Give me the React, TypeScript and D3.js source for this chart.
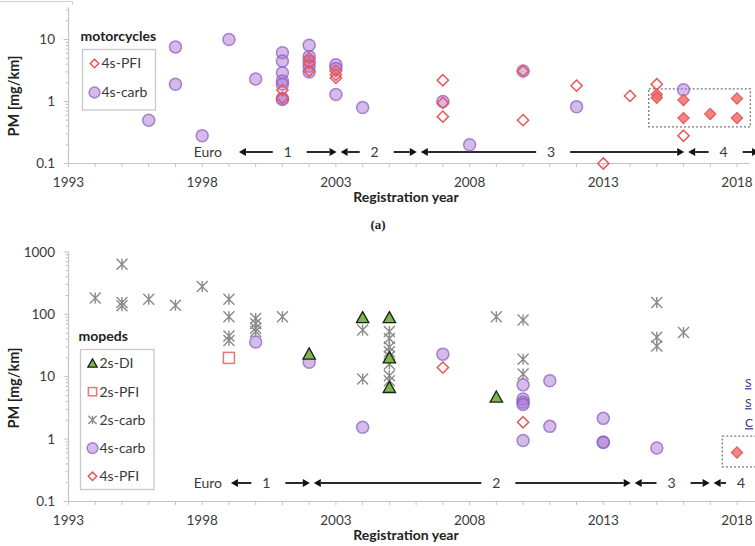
import React from 'react'
import * as d3 from 'd3'

// panel (a) motorcycles: [registration year, PM mg/km]
const motoCarb4s: [number, number][] = [
  [1996, 0.5], [1997, 7.6], [1997, 1.9], [1998, 0.28], [1999, 10], [2000, 2.3],
  [2001, 6.1], [2001, 4.5], [2001, 2.9], [2001, 2.15], [2001, 1.9], [2001, 1.12], [2001, 1.08],
  [2002, 8.1], [2002, 5.3], [2002, 4.4], [2002, 3.7], [2002, 3.0],
  [2003, 3.9], [2003, 3.4], [2003, 1.3], [2004, 0.8],
  [2007, 1.0], [2008, 0.2], [2010, 3.1], [2012, 0.82], [2016, 1.55]
]
const motoPfi4s: [number, number][] = [
  [2001, 1.53], [2001, 1.15], [2002, 5.0], [2002, 4.2], [2002, 3.1],
  [2003, 3.1], [2003, 2.7], [2003, 2.4],
  [2007, 2.2], [2007, 0.95], [2007, 0.57], [2010, 3.1], [2010, 0.5],
  [2012, 1.8], [2013, 0.1], [2014, 1.23], [2015, 1.9], [2016, 0.28]
]
// measured in this study (filled, inside dashed box)
const motoPfiNew: [number, number][] = [
  [2015, 1.3], [2015, 1.15], [2016, 1.06], [2016, 0.54], [2017, 0.63], [2018, 1.12], [2018, 0.54]
]
const motoBoxYears = [2014.7, 2018.5]
const motoBoxPm = [0.39, 1.6]
// [start, end, label year, label]
const motoEuro: [number, number, number, string][] = [
  [1999.3, 2003.1, 2001.2, '1'],
  [2003.1, 2006.1, 2004.45, '2'],
  [2006.1, 2016.1, 2011.05, '3'],
  [2016.1, 2018.9, 2017.5, '4']
]

// panel (b) mopeds
const mopedDi2s: [number, number][] = [
  [2002, 23], [2004, 88], [2005, 88], [2005, 20], [2005, 6.7], [2009, 4.7]
]
const mopedPfi2s: [number, number][] = [[1999, 20]]
const mopedCarb2s: [number, number][] = [
  [1994, 182], [1995, 635], [1995, 155], [1995, 137], [1996, 175], [1997, 140], [1998, 279],
  [1999, 175], [1999, 91], [1999, 45], [1999, 38],
  [2000, 86], [2000, 71], [2000, 60], [2000, 53], [2001, 91],
  [2004, 56], [2004, 9.2],
  [2005, 53], [2005, 41], [2005, 30], [2005, 25], [2005, 21], [2005, 16], [2005, 10.4], [2005, 8.6],
  [2009, 91], [2010, 81], [2010, 19], [2010, 11],
  [2015, 155], [2015, 43], [2015, 31], [2016, 51]
]
const mopedCarb4s: [number, number][] = [
  [2000, 36], [2002, 17], [2004, 1.55], [2007, 23],
  [2010, 7.4], [2010, 4.4], [2010, 3.9], [2010, 3.6], [2010, 0.95],
  [2011, 8.6], [2011, 1.6], [2013, 2.15], [2013, 0.9], [2013, 0.88], [2015, 0.72]
]
const mopedPfi4s: [number, number][] = [[2007, 14], [2010, 1.86]]
const mopedPfiNew: [number, number][] = [[2018, 0.61]]
const mopedBoxYears = [2017.45, 2019.6]
const mopedBoxPm = [0.36, 1.12]
const mopedEuro: [number, number, number, string][] = [
  [1999.0, 2002.1, 2000.4, '1'],
  [2002.1, 2014.1, 2009.0, '2'],
  [2014.1, 2017.05, 2015.55, '3'],
  [2017.05, 2019.6, 2018.15, '4']
]

const xLabelYears = [1993, 1998, 2003, 2008, 2013, 2018]
const motoYTicks = [0.1, 1, 10]
const mopedYTicks = [0.1, 1, 10, 100, 1000]

const FONT = 'Lato, "Open Sans", sans-serif'
const AXIS = '#c4c4c4'
const TXT = '#3a3a3a'

const x = d3.scaleLinear().domain([1993, 2018]).range([68.5, 737])

function Marker ({ kind, cx, cy, s = 1 }: { kind: string, cx: number, cy: number, s?: number }) {
  if (kind === 'carb4') {
    return <circle cx={cx} cy={cy} r={6 * s} fill='rgba(165,115,210,0.48)' stroke='rgba(140,90,195,0.72)' strokeWidth={1.5} />
  }
  if (kind === 'pfi4' || kind === 'pfiNew') {
    const r = 5.6 * s
    const d = `M${cx},${cy - r}L${cx + r},${cy}L${cx},${cy + r}L${cx - r},${cy}Z`
    return kind === 'pfi4'
      ? <path d={d} fill='none' stroke='#ec5656' strokeWidth={1.5} />
      : <path d={d} fill='rgba(240,110,110,0.85)' stroke='#e25a5a' strokeWidth={1.2} />
  }
  if (kind === 'di2') {
    const r = 6.2 * s
    return <path d={`M${cx},${cy - r}L${cx + r},${cy + r * 0.8}L${cx - r},${cy + r * 0.8}Z`} fill='#7cb848' stroke='#1e1e1e' strokeWidth={1.3} />
  }
  if (kind === 'pfi2') {
    const r = 5.5 * s
    return <rect x={cx - r} y={cy - r} width={2 * r} height={2 * r} fill='none' stroke='#ee7474' strokeWidth={1.5} />
  }
  // carb2: asterisk
  const r = 5.5 * s
  return (
    <path d={`M${cx - r},${cy - r}L${cx + r},${cy + r}M${cx - r},${cy + r}L${cx + r},${cy - r}M${cx},${cy - r}L${cx},${cy + r}`}
      stroke='#8a8a8a' strokeWidth={1.4} fill='none' />
  )
}

function Arrow ({ from, to, y }: { from: number, to: number, y: number }) {
  // arrow line from `from`, head at `to`
  const dir = to > from ? 1 : -1
  const hl = 7
  return (
    <g>
      <line x1={from} x2={to - dir * hl} y1={y} y2={y} stroke='#2a2a2a' strokeWidth={2} />
      <path d={`M${to},${y}L${to - dir * hl},${y - 4}L${to - dir * hl},${y + 4}Z`} fill='#111' />
    </g>
  )
}

type PanelProps = {
  y: d3.ScaleLogarithmic<number, number>
  yTop: number
  yTicks: number[]
  axisEnd: number
  series: { kind: string, data: [number, number][] }[]
  legendTitle: string
  legend: { kind: string, label: string }[]
  legendX: number
  legendY: number
  legendW: number
  legendH: number
  legendStep: number
  euro: [number, number, number, string][]
  euroY: number
  boxYears: number[]
  boxPm: number[]
  titleY: number
}

function Panel (p: PanelProps) {
  const y = p.y
  const y0 = y.domain()[0]
  const base = y(y0)
  const minor: number[] = []
  for (let dec = y0; dec < p.yTop; dec *= 10) {
    for (let m = 2; m <= 9; m++) {
      const v = Math.round(dec * m * 1000) / 1000
      if (v <= p.yTop) minor.push(v)
    }
  }
  const years = d3.range(1993, 2020).filter(yr => x(yr) <= p.axisEnd)
  const fmt = (v: number) => (v < 1 ? String(v) : d3.format('d')(v))
  return (
    <g>
      {/* y axis */}
      <line x1={x(1993)} x2={x(1993)} y1={base} y2={y(p.yTop)} stroke={AXIS} strokeWidth={1.2} />
      {minor.map((v, i) => (
        <line key={'m' + i} x1={x(1993) - 3} x2={x(1993)} y1={y(v)} y2={y(v)} stroke={AXIS} />
      ))}
      {p.yTicks.map(v => (
        <g key={'t' + v}>
          <line x1={x(1993) - 5} x2={x(1993)} y1={y(v)} y2={y(v)} stroke={AXIS} />
          <text x={55} y={y(v)} dy='0.35em' textAnchor='end' fontSize={13.5} fill={TXT}>{fmt(v)}</text>
        </g>
      ))}
      <text transform={`translate(19,${p.titleY}) rotate(-90)`} textAnchor='middle' fontSize={14.5} fontWeight='bold' fill='#222'>PM [mg/km]</text>

      {/* x axis */}
      <line x1={x(1993)} x2={p.axisEnd} y1={base} y2={base} stroke={AXIS} strokeWidth={1.2} />
      {years.map(yr => (
        <line key={'x' + yr} x1={x(yr)} x2={x(yr)} y1={base} y2={base + 3.5} stroke={AXIS} />
      ))}
      {xLabelYears.map(yr => (
        <text key={'xl' + yr} x={x(yr)} y={base + 19} dy='0.35em' textAnchor='middle' fontSize={13.5} fill={TXT}>{yr}</text>
      ))}
      <text x={406} y={base + 34} dy='0.35em' textAnchor='middle' fontSize={14} fontWeight='bold' fill='#222'>Registration year</text>

      {/* euro stages */}
      <text x={222} y={p.euroY} dy='0.35em' textAnchor='end' fontSize={14} fill={TXT}>Euro</text>
      {p.euro.map(([s, e, ly, lab]) => {
        const lx = x(ly)
        return (
          <g key={'e' + lab}>
            <Arrow from={lx - 15} to={x(s) + 2} y={p.euroY} />
            <Arrow from={lx + 19} to={x(e) - 2} y={p.euroY} />
            <text x={lx} y={p.euroY} dy='0.35em' textAnchor='middle' fontSize={14} fill={TXT}>{lab}</text>
          </g>
        )
      })}

      {/* dashed box around this study */}
      <rect x={x(p.boxYears[0])} y={y(p.boxPm[1])} width={x(p.boxYears[1]) - x(p.boxYears[0])}
        height={y(p.boxPm[0]) - y(p.boxPm[1])} fill='none' stroke='#777' strokeWidth={1.3} strokeDasharray='2,2' />

      {/* points */}
      {p.series.map(ser => ser.data.map(([yr, v], i) => (
        <Marker key={ser.kind + i} kind={ser.kind} cx={x(yr)} cy={y(v)} />
      )))}

      {/* legend */}
      <text x={p.legendX - 2} y={p.legendY - 13} dy='0.35em' fontSize={14} fontWeight='bold' fill='#222'>{p.legendTitle}</text>
      <rect x={p.legendX} y={p.legendY} width={p.legendW} height={p.legendH} fill='#fff' stroke='#c8c8c8' strokeWidth={1.3} />
      {p.legend.map((it, i) => {
        const ly = p.legendY + 14 + i * p.legendStep
        return (
          <g key={'l' + i}>
            <Marker kind={it.kind} cx={p.legendX + 12} cy={ly} s={it.kind === 'carb4' ? 0.9 : 0.75} />
            <text x={p.legendX + 19} y={ly} dy='0.35em' fontSize={14} fill={TXT}>{it.label}</text>
          </g>
        )
      })}
    </g>
  )
}

export default function App () {
  const yMoto = d3.scaleLog().domain([0.1, 10]).range([163.5, 39.5])
  const yMoped = d3.scaleLog().domain([0.1, 1000]).range([501.5, 251.9])
  return (
    <svg width={755} height={546} style={{ position: 'absolute', left: 0, top: 0, display: 'block' }}
      fontFamily={FONT}>
      <rect width={755} height={546} fill='#fff' />
      <path d='M0,1.5H72.5V5' fill='none' stroke='#cfcfcf' />
      <Panel
        y={yMoto} yTop={33} yTicks={motoYTicks} axisEnd={750}
        series={[
          { kind: 'carb4', data: motoCarb4s },
          { kind: 'pfi4', data: motoPfi4s },
          { kind: 'pfiNew', data: motoPfiNew }
        ]}
        legendTitle='motorcycles'
        legend={[{ kind: 'pfi4', label: '4s-PFI' }, { kind: 'carb4', label: '4s-carb' }]}
        legendX={82.5} legendY={49.5} legendW={73} legendH={60.5} legendStep={29}
        euro={motoEuro} euroY={152}
        boxYears={motoBoxYears} boxPm={motoBoxPm}
        titleY={96}
      />
      <text x={378} y={224} dy='0.35em' textAnchor='middle' fontSize={13} fontWeight='bold' fontFamily='"Liberation Serif", serif' fill='#222'>(a)</text>
      <Panel
        y={yMoped} yTop={1000} yTicks={mopedYTicks} axisEnd={755}
        series={[
          { kind: 'carb2', data: mopedCarb2s },
          { kind: 'carb4', data: mopedCarb4s },
          { kind: 'pfi2', data: mopedPfi2s },
          { kind: 'di2', data: mopedDi2s },
          { kind: 'pfi4', data: mopedPfi4s },
          { kind: 'pfiNew', data: mopedPfiNew }
        ]}
        legendTitle='mopeds'
        legend={[
          { kind: 'di2', label: '2s-DI' },
          { kind: 'pfi2', label: '2s-PFI' },
          { kind: 'carb2', label: '2s-carb' },
          { kind: 'carb4', label: '4s-carb' },
          { kind: 'pfi4', label: '4s-PFI' }
        ]}
        legendX={80.5} legendY={349.5} legendW={73.5} legendH={140} legendStep={28.2}
        euro={mopedEuro} euroY={483}
        boxYears={mopedBoxYears} boxPm={mopedBoxPm}
        titleY={388}
      />
      {/* letters of page text at the right edge */}
      {['S', 'S', 'C'].map((c, i) => (
        <text key={'c' + i} x={745} y={383 + i * 20} dy='0.35em' fontSize={12} fill='#2e3a8c' textDecoration='underline'>{c}</text>
      ))}
    </svg>
  )
}
